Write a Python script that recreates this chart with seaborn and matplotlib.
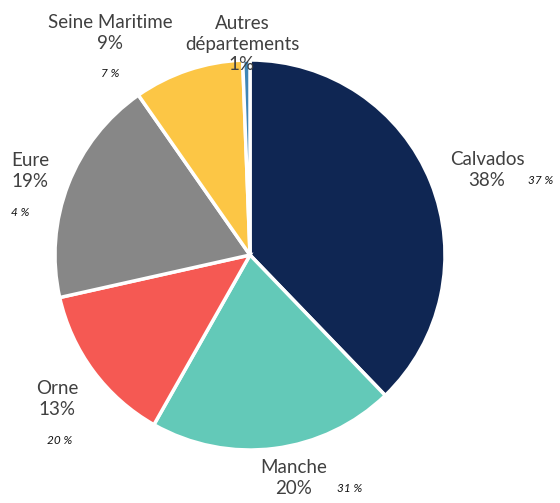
import matplotlib
matplotlib.use("Agg")
import matplotlib.pyplot as plt
import seaborn as sns

sns.set_style("white")
plt.rcParams['font.family'] = ['Lato', 'DejaVu Sans']

departements = ["Calvados", "Manche", "Orne", "Eure", "Seine Maritime", "Autres\ndépartements"]
parts = [37.8, 20.4, 13.3, 18.8, 9.1, 0.6]
autres_parts = ["37 %", "31 %", "20 %", "4 %", "7 %", ""]
couleurs = sns.color_palette(["#0F2653", "#63C9B8", "#F55953", "#878787", "#FCC645", "#3F86B5"])

W, H = 560, 503
fig = plt.figure(figsize=(W / 100, H / 100), dpi=100)
ax = fig.add_axes([0, 0, 1, 1])

ax.pie(parts, colors=couleurs, startangle=90, counterclock=False,
       center=(250, H - 255), radius=195, frame=True,
       wedgeprops=dict(edgecolor="white", linewidth=2.5))
ax.set_xlim(0, W)
ax.set_ylim(0, H)
ax.set_aspect("equal")
ax.axis("off")

# label placement (pixel positions, top-left origin)
main_pos = [(487, 170), (294, 478), (57, 399), (30, 171), (110, 33), (242, 44)]
small_pos = [(541, 180), (350, 489), (60, 440), (20, 212), (110, 73), None]
grey = "#404040"
for name, p, (x, y) in zip(departements, parts, main_pos):
    txt = f"{name}\n{round(p)}%"
    ax.text(x, H - y, txt, ha="center", va="center", fontsize=13.5,
            color=grey, linespacing=1.25)
for s, pos in zip(autres_parts, small_pos):
    if pos is None:
        continue
    ax.text(pos[0], H - pos[1], s, ha="center", va="center", fontsize=8.5,
            style="italic", color="#111111")

fig.savefig("out.png", dpi=100)
